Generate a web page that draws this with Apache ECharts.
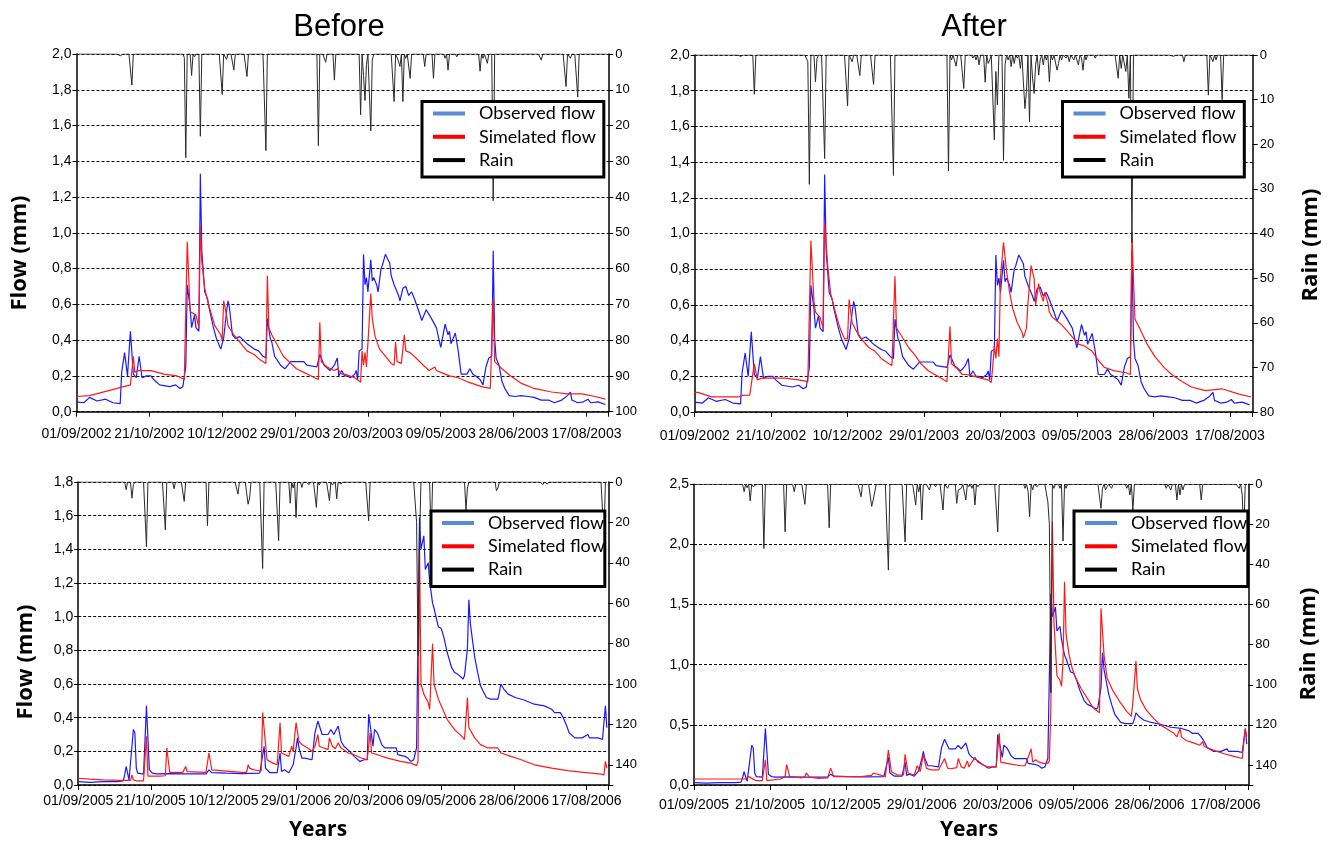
<!DOCTYPE html>
<html>
<head>
<meta charset="utf-8">
<script src="https://cdn.jsdelivr.net/npm/echarts@6/dist/echarts.min.js"></script>
<style>
html,body{margin:0;padding:0;background:#fff;}
#chart{width:1333px;height:841px;}
</style>
</head>
<body>
<div id="chart"></div>
<script>
// ---------- DATA (day offset from the start date, value) ----------
const START_2002 = [2002, 8, 1];   // 01/09/2002
const START_2005 = [2005, 8, 1];   // 01/09/2005
const PANEL_TITLES = ['Before', 'After'];
const SERIES_NAMES = ['Observed flow', 'Simelated flow', 'Rain'];

// Observed flow 2002-2003 (mm) – same in Before / After
const OBS_2002 = [[0,0.055],[5,0.05],[9,0.08],[14,0.06],[20,0.07],[25,0.05],[30,0.045],[31,0.22],[33,0.33],[35,0.2],[37,0.45],[39,0.21],[41,0.19],[43,0.31],[45,0.19],[48,0.2],[51,0.2],[53,0.18],[57,0.15],[64,0.14],[68,0.15],[71,0.13],[73,0.14],[75,0.25],[76,0.71],[78,0.58],[79,0.47],[81,0.54],[82,0.47],[84,0.45],[85,1.33],[86,0.9],[88,0.67],[90,0.63],[91,0.58],[94,0.47],[96,0.41],[99,0.35],[101,0.41],[103,0.56],[104,0.62],[105,0.58],[107,0.43],[109,0.41],[112,0.42],[117,0.38],[122,0.35],[125,0.34],[128,0.31],[130,0.3],[131,0.52],[133,0.41],[134,0.39],[136,0.31],[140,0.26],[143,0.24],[147,0.28],[156,0.28],[158,0.26],[165,0.25],[167,0.32],[170,0.26],[174,0.23],[177,0.26],[179,0.3],[180,0.2],[182,0.23],[184,0.2],[186,0.2],[188,0.19],[191,0.21],[192,0.23],[193,0.18],[194,0.34],[196,0.35],[197,0.88],[198,0.71],[199,0.75],[200,0.67],[202,0.85],[203,0.73],[204,0.75],[206,0.71],[207,0.67],[209,0.8],[210,0.82],[212,0.88],[213,0.88],[215,0.83],[216,0.76],[218,0.71],[221,0.65],[222,0.62],[224,0.69],[226,0.7],[228,0.65],[230,0.67],[232,0.63],[235,0.56],[237,0.51],[240,0.57],[243,0.53],[247,0.47],[250,0.36],[251,0.35],[253,0.49],[255,0.43],[256,0.45],[257,0.38],[260,0.44],[262,0.34],[264,0.21],[268,0.21],[270,0.24],[272,0.21],[274,0.2],[277,0.18],[279,0.15],[281,0.25],[283,0.3],[285,0.31],[286,0.9],[287,0.41],[288,0.3],[290,0.26],[292,0.17],[294,0.13],[297,0.09],[301,0.085],[305,0.09],[310,0.085],[314,0.08],[319,0.065],[324,0.065],[328,0.05],[333,0.065],[337,0.09],[339,0.11],[340,0.065],[344,0.05],[348,0.055],[351,0.07],[353,0.05],[358,0.055],[363,0.04]];

// Simulated flow 2002-2003, Before calibration
const SIM_BEFORE_2002 = [[0,0.085],[9,0.09],[37,0.15],[38,0.16],[39,0.31],[40,0.22],[42,0.23],[51,0.23],[60,0.21],[69,0.2],[74,0.18],[75,0.18],[76,0.95],[78,0.56],[79,0.55],[82,0.54],[84,0.47],[85,1.04],[86,0.84],[88,0.69],[90,0.62],[92,0.56],[95,0.48],[99,0.43],[100,0.4],[101,0.62],[103,0.54],[104,0.48],[108,0.43],[112,0.39],[117,0.34],[122,0.32],[126,0.29],[130,0.27],[131,0.76],[132,0.47],[134,0.43],[138,0.37],[142,0.31],[147,0.27],[151,0.24],[156,0.22],[161,0.2],[166,0.18],[167,0.5],[168,0.28],[172,0.25],[177,0.23],[179,0.24],[182,0.21],[184,0.21],[191,0.19],[195,0.165],[196,0.34],[197,0.26],[198,0.33],[199,0.25],[200,0.38],[202,0.66],[203,0.52],[205,0.42],[208,0.35],[211,0.32],[216,0.27],[218,0.26],[219,0.39],[220,0.28],[223,0.27],[225,0.43],[226,0.34],[229,0.33],[233,0.3],[238,0.26],[242,0.23],[246,0.25],[247,0.23],[253,0.21],[256,0.2],[262,0.19],[269,0.165],[278,0.14],[284,0.13],[285,0.14],[286,0.63],[287,0.28],[292,0.24],[298,0.2],[305,0.16],[314,0.13],[326,0.11],[337,0.1],[344,0.1],[345,0.11],[347,0.1],[356,0.085],[363,0.07]];

// Simulated flow 2002-2003, After calibration
const SIM_AFTER_2002 = [[0,0.11],[2,0.11],[11,0.085],[29,0.085],[31,0.093],[36,0.095],[37,0.1],[39,0.27],[41,0.18],[44,0.19],[50,0.19],[59,0.19],[68,0.18],[74,0.17],[76,0.96],[78,0.62],[79,0.56],[82,0.53],[84,0.47],[85,1.06],[87,0.82],[89,0.66],[92,0.56],[95,0.47],[98,0.41],[100,0.41],[101,0.63],[103,0.5],[106,0.45],[109,0.41],[114,0.36],[118,0.34],[122,0.3],[127,0.27],[129,0.26],[131,0.76],[132,0.47],[135,0.43],[140,0.36],[144,0.32],[148,0.27],[153,0.23],[159,0.2],[165,0.17],[167,0.48],[168,0.27],[172,0.24],[175,0.21],[178,0.21],[183,0.2],[187,0.19],[192,0.18],[194,0.165],[195,0.26],[196,0.37],[197,0.3],[198,0.41],[199,0.31],[200,0.75],[202,0.95],[204,0.79],[206,0.67],[208,0.58],[211,0.5],[214,0.45],[215,0.415],[217,0.47],[218,0.61],[220,0.82],[222,0.75],[223,0.6],[225,0.72],[226,0.67],[228,0.62],[229,0.67],[231,0.61],[232,0.56],[234,0.53],[237,0.51],[240,0.49],[244,0.45],[248,0.41],[251,0.38],[255,0.37],[260,0.34],[264,0.29],[268,0.25],[275,0.23],[282,0.22],[285,0.21],[286,1.01],[287,0.75],[288,0.52],[291,0.47],[296,0.38],[301,0.31],[307,0.25],[312,0.21],[319,0.17],[325,0.14],[334,0.12],[345,0.13],[346,0.12],[356,0.1],[364,0.084]];

// Rain 2002-2003 (mm), [day, mm]; other days 0
const RAIN_BEFORE_2002 = [[30,0.5],[38,8.7],[50,0.3],[74,1],[75,29],[79,6],[81,0.8],[85,23],[100,11.3],[103,1.5],[108,4.5],[117,6.3],[130,27],[166,25.6],[171,2.3],[177,7.3],[195,17],[197,6],[198,13],[199,3],[202,21.5],[203,1.7],[218,13.3],[221,2],[222,3.5],[224,13.3],[226,1.2],[229,6.8],[239,3.5],[245,6.8],[253,1.2],[255,4.5],[261,0.8],[277,4.8],[279,1.2],[282,2.6],[286,41],[312,0.4],[319,1.7],[336,9.1],[339,1.2],[344,12]];
const RAIN_AFTER_2002 = [[30,0.3],[39,8.8],[74,1.5],[75,29],[79,6],[80,0.8],[85,23.2],[100,11.4],[103,1.5],[108,4.6],[117,6.6],[130,27],[166,26],[168,1.1],[171,2.5],[176,7.5],[182,0.7],[184,1.1],[186,2.2],[190,6.1],[192,1.9],[193,1.1],[196,19],[197,3.7],[198,11.2],[202,23.6],[203,2.2],[205,1.1],[207,2.6],[209,1.9],[211,0.7],[213,3],[215,6],[216,12],[217,8.2],[219,15],[221,5.2],[222,8.6],[223,2.2],[225,4.5],[226,1.1],[228,2.2],[230,1.1],[232,6],[234,1.1],[237,3.4],[238,1.9],[240,1.1],[243,0.7],[245,1.5],[248,1.1],[251,2.2],[253,0.7],[254,3.4],[256,1.1],[262,0.7],[277,5.2],[279,3],[282,3.7],[284,9.7],[286,42],[313,0.3],[320,1.5],[336,9],[339,1.5],[341,1.1],[345,10]];

// Observed flow 2005-2006 (mm) – same in Before / After
const OBS_2005 = [[0,0.02],[8,0.016],[17,0.02],[27,0.02],[31,0.024],[32,0.06],[33,0.11],[35,0.03],[36,0.03],[38,0.33],[39,0.31],[40,0.1],[41,0.07],[45,0.065],[46,0.07],[47,0.47],[49,0.09],[51,0.07],[54,0.066],[63,0.067],[74,0.066],[88,0.066],[90,0.09],[92,0.073],[102,0.07],[113,0.068],[125,0.07],[126,0.073],[128,0.23],[129,0.1],[132,0.073],[137,0.073],[139,0.19],[140,0.08],[142,0.09],[145,0.073],[148,0.12],[150,0.22],[151,0.28],[152,0.22],[154,0.16],[156,0.16],[157,0.15],[161,0.15],[163,0.31],[165,0.38],[166,0.37],[168,0.3],[172,0.3],[174,0.33],[176,0.3],[179,0.35],[181,0.26],[183,0.23],[187,0.2],[190,0.17],[194,0.14],[197,0.15],[199,0.15],[200,0.42],[201,0.43],[203,0.23],[204,0.33],[206,0.31],[209,0.24],[211,0.22],[219,0.22],[220,0.18],[225,0.17],[227,0.16],[229,0.14],[231,0.15],[233,0.22],[234,0.22],[235,1.59],[236,1.4],[238,1.48],[239,1.28],[240,1.27],[241,1.32],[242,1.21],[244,1.08],[245,1.05],[248,0.94],[250,0.93],[252,0.87],[254,0.79],[257,0.7],[259,0.67],[261,0.66],[265,0.63],[266,0.65],[268,0.81],[269,1.1],[270,0.96],[273,0.76],[275,0.67],[277,0.59],[281,0.52],[284,0.51],[289,0.51],[290,0.55],[291,0.6],[293,0.57],[296,0.54],[301,0.52],[307,0.505],[314,0.48],[321,0.47],[326,0.45],[328,0.43],[332,0.43],[334,0.4],[336,0.36],[338,0.31],[342,0.28],[347,0.28],[351,0.3],[352,0.28],[358,0.28],[361,0.27],[363,0.47],[364,0.34]];

const SIM_BEFORE_2005 = [[0,0.04],[8,0.035],[17,0.03],[29,0.028],[33,0.028],[36,0.027],[37,0.06],[38,0.03],[40,0.025],[45,0.025],[47,0.29],[48,0.053],[56,0.053],[60,0.055],[61,0.22],[63,0.075],[72,0.075],[74,0.11],[75,0.08],[88,0.075],[90,0.19],[92,0.09],[102,0.083],[113,0.075],[116,0.075],[117,0.12],[118,0.1],[119,0.11],[121,0.09],[126,0.083],[127,0.43],[130,0.15],[134,0.13],[137,0.12],[139,0.37],[140,0.19],[145,0.17],[147,0.23],[148,0.2],[150,0.37],[152,0.26],[154,0.24],[158,0.22],[161,0.2],[163,0.23],[165,0.3],[166,0.23],[169,0.22],[172,0.21],[173,0.28],[175,0.23],[177,0.215],[179,0.25],[181,0.22],[186,0.19],[190,0.18],[195,0.16],[199,0.15],[200,0.15],[201,0.31],[202,0.19],[206,0.18],[213,0.16],[222,0.14],[229,0.13],[233,0.115],[234,0.14],[235,1.42],[236,0.6],[238,0.54],[241,0.49],[242,0.45],[244,0.84],[245,0.6],[248,0.51],[251,0.45],[254,0.39],[259,0.33],[264,0.29],[266,0.27],[268,0.52],[269,0.34],[273,0.28],[277,0.24],[282,0.22],[289,0.22],[291,0.19],[298,0.17],[305,0.15],[314,0.12],[326,0.1],[337,0.085],[348,0.075],[360,0.065],[362,0.06],[363,0.14],[364,0.1]];

const SIM_AFTER_2005 = [[0,0.05],[16,0.05],[31,0.05],[34,0.05],[36,0.07],[38,0.055],[41,0.036],[45,0.036],[47,0.21],[48,0.036],[57,0.05],[60,0.07],[61,0.17],[63,0.07],[71,0.06],[73,0.07],[74,0.1],[76,0.065],[82,0.055],[88,0.06],[90,0.14],[92,0.07],[97,0.07],[110,0.07],[117,0.08],[118,0.1],[119,0.085],[126,0.07],[128,0.29],[130,0.11],[134,0.083],[138,0.083],[139,0.255],[141,0.1],[145,0.083],[147,0.16],[149,0.11],[151,0.255],[153,0.14],[156,0.125],[161,0.125],[165,0.22],[167,0.14],[169,0.135],[173,0.145],[174,0.22],[176,0.15],[178,0.14],[180,0.2],[181,0.15],[185,0.23],[187,0.19],[193,0.15],[199,0.15],[201,0.43],[202,0.19],[206,0.18],[215,0.16],[218,0.16],[222,0.3],[223,0.19],[225,0.21],[227,0.19],[230,0.18],[233,0.18],[234,0.2],[235,0.64],[236,2.19],[237,1.36],[239,0.91],[241,0.87],[242,0.82],[243,1.03],[244,1.69],[245,1.25],[247,1.08],[249,0.97],[251,0.9],[255,0.8],[259,0.72],[263,0.64],[267,0.6],[268,1.47],[270,1.08],[272,0.89],[276,0.78],[281,0.68],[285,0.61],[288,0.57],[289,0.69],[291,1.03],[292,0.8],[294,0.71],[298,0.62],[303,0.55],[307,0.5],[311,0.47],[316,0.43],[318,0.4],[320,0.47],[321,0.4],[324,0.37],[329,0.35],[333,0.33],[335,0.36],[336,0.32],[342,0.29],[349,0.26],[355,0.24],[361,0.22],[363,0.47],[364,0.4]];

const RAIN_BEFORE_2005 = [[33,3.8],[37,8],[38,1.3],[47,32],[60,23.7],[66,3.3],[73,9.6],[89,21.6],[110,6],[117,11],[118,8],[127,42.8],[138,29],[146,10.5],[148,3],[150,17.6],[154,2.7],[159,1.3],[164,12.6],[166,1.5],[173,9.3],[175,1.5],[176,1.3],[178,8.3],[181,1],[200,19.2],[233,20],[234,86],[235,30],[243,30],[267,14],[268,3],[288,4.3],[289,3],[320,1.3],[323,1],[362,28]];
const RAIN_AFTER_2005 = [[33,3.7],[35,1.7],[37,8.3],[39,1.2],[40,1.2],[46,32],[60,23.7],[66,3.7],[73,10],[89,21.7],[110,6.2],[117,11],[118,7.8],[119,8.7],[128,42.8],[139,28.7],[146,10.3],[148,3.7],[150,17.8],[155,2.8],[159,1.2],[164,12.8],[167,2],[173,9.5],[174,2.8],[175,3.7],[176,2],[179,7.8],[181,1.2],[183,2],[185,10.3],[187,1.2],[200,23.7],[218,2],[220,3.7],[221,16.2],[223,2.8],[226,1.2],[233,8.7],[234,20],[235,104],[237,2],[241,2],[243,28.3],[245,2],[268,12],[269,2],[271,2.8],[272,1.2],[275,2],[285,2],[287,5.3],[289,13],[311,2],[314,2.8],[318,7.8],[320,5.3],[322,2.8],[334,7.8],[359,2],[361,5.3],[362,25]];

// Axis ranges
const FLOW_MAX = [2.0, 2.0, 1.8, 2.5];
const FLOW_STEP = [0.2, 0.2, 0.2, 0.5];
const RAIN_MAX = [100, 80, 150, 150];
const RAIN_STEP = [10, 10, 20, 20];

// ---------- BUILD ----------
function dailyRain(events) {
  const m = new Map(events.map(e => [e[0], e[1]]));
  const out = [];
  for (let d = 0; d <= 364; d++) out.push([d, m.has(d) ? m.get(d) : 0]);
  return out;
}
function pad2(n) { return (n < 10 ? '0' : '') + n; }
function dateFormatter(start) {
  return function (v) {
    if (Math.abs(v % 50) > 1e-6) return '';
    const d = new Date(Date.UTC(start[0], start[1], start[2] + v));
    return pad2(d.getUTCDate()) + '/' + pad2(d.getUTCMonth() + 1) + '/' + d.getUTCFullYear();
  };
}

const panels = [
  {start: START_2002, obs: OBS_2002, sim: SIM_BEFORE_2002, rain: RAIN_BEFORE_2002,
   grid: {left: 76.5, right: 724.7, top: 54, bottom: 429.3}, xMargin: 15,
   legend: {left: 422, top: 101.5, padR: 8}},
  {start: START_2002, obs: OBS_2002, sim: SIM_AFTER_2002, rain: RAIN_AFTER_2002,
   grid: {left: 694.7, right: 80.3, top: 55, bottom: 429}, xMargin: 17,
   legend: {left: 1062.5, top: 101.5, padR: 8}},
  {start: START_2005, obs: OBS_2005, sim: SIM_BEFORE_2005, rain: RAIN_BEFORE_2005,
   grid: {left: 78.2, right: 724.7, top: 482, bottom: 56}, xMargin: 9,
   legend: {left: 431, top: 511, padR: 0}},
  {start: START_2005, obs: OBS_2005, sim: SIM_AFTER_2005, rain: RAIN_AFTER_2005,
   grid: {left: 694, right: 84.7, top: 484.3, bottom: 56}, xMargin: 13,
   legend: {left: 1074, top: 511, padR: 0}}
];

const grids = [], xAxes = [], yAxes = [], series = [], legends = [];
panels.forEach((p, i) => {
  grids.push(Object.assign({containLabel: false}, p.grid));
  xAxes.push({
    type: 'value', gridIndex: i, min: 0, max: 365, interval: 50,
    axisLine: {lineStyle: {color: '#000', width: 1.5}},
    axisTick: {length: 5, lineStyle: {color: '#000', width: 1}},
    axisLabel: {formatter: dateFormatter(p.start), color: '#000',
      fontFamily: '"Liberation Sans Narrow", "Liberation Sans", sans-serif', fontSize: 14, margin: p.xMargin},
    splitLine: {show: false}
  });
  yAxes.push({
    type: 'value', gridIndex: i, position: 'left', min: 0, max: FLOW_MAX[i], interval: FLOW_STEP[i],
    axisLine: {show: true, lineStyle: {color: '#000', width: 1.5}},
    axisTick: {show: true, length: 4, lineStyle: {color: '#000'}},
    axisLabel: {formatter: v => v.toFixed(1).replace('.', ','), color: '#000',
      fontFamily: '"Liberation Sans", sans-serif', fontSize: 14, margin: 5},
    splitLine: {show: true, lineStyle: {color: '#000', width: 1, type: [3, 2]}}
  });
  yAxes.push({
    type: 'value', gridIndex: i, position: 'right', inverse: true, min: 0, max: RAIN_MAX[i], interval: RAIN_STEP[i],
    axisLine: {show: true, lineStyle: {color: '#000', width: 1.5}},
    axisTick: {show: true, length: 5, lineStyle: {color: '#000'}},
    axisLabel: {formatter: v => (v % RAIN_STEP[i] === 0 ? String(v) : ''), color: '#000',
      fontFamily: '"Liberation Sans", sans-serif', fontSize: 13, margin: 7},
    splitLine: {show: false}
  });
  series.push({
    name: SERIES_NAMES[0], type: 'line', xAxisIndex: i, yAxisIndex: 2 * i, data: p.obs,
    color: '#1a1aff', showSymbol: false, symbol: 'none', lineStyle: {width: 1.2, color: '#1a1aff'}, z: 3
  });
  series.push({
    name: SERIES_NAMES[1], type: 'line', xAxisIndex: i, yAxisIndex: 2 * i, data: p.sim,
    color: '#ff1a1a', showSymbol: false, symbol: 'none', lineStyle: {width: 1.2, color: '#ff1a1a'}, z: 3
  });
  series.push({
    name: SERIES_NAMES[2], type: 'line', xAxisIndex: i, yAxisIndex: 2 * i + 1, data: dailyRain(p.rain),
    color: '#000', showSymbol: false, symbol: 'none', lineStyle: {width: 1, color: '#2a2a2a'}, z: 3
  });
  legends.push({
    left: p.legend.left, top: p.legend.top, orient: 'vertical', icon: 'rect',
    itemWidth: 32, itemHeight: 4, itemGap: 3.3, padding: [2, p.legend.padR, 7, 11],
    backgroundColor: '#fff', borderColor: '#000', borderWidth: 3, selectedMode: false,
    itemStyle: {borderWidth: 0},
    textStyle: {fontFamily: 'Lato, sans-serif', fontSize: 18, color: '#000', lineHeight: 20, padding: [0, 0, 0, 9]},
    data: [{name: SERIES_NAMES[0], itemStyle: {color: '#5b8bd6', borderWidth: 0}},
           {name: SERIES_NAMES[1], itemStyle: {color: '#ff0000', borderWidth: 0}},
           {name: SERIES_NAMES[2], itemStyle: {color: '#000', borderWidth: 0}}]
  });
});

const boldFont = 'bold 22px "Open Sans", sans-serif';
const graphic = [
  {type: 'text', x: 339, y: 27, style: {text: PANEL_TITLES[0], font: '31px "Liberation Sans", sans-serif', fill: '#000', textAlign: 'center', textVerticalAlign: 'middle'}},
  {type: 'text', x: 974, y: 27, style: {text: PANEL_TITLES[1], font: '31px "Liberation Sans", sans-serif', fill: '#000', textAlign: 'center', textVerticalAlign: 'middle'}},
  {type: 'text', x: 20, y: 253, rotation: Math.PI / 2, style: {text: 'Flow (mm)', font: boldFont, fill: '#000', textAlign: 'center', textVerticalAlign: 'middle'}},
  {type: 'text', x: 26, y: 662, rotation: Math.PI / 2, style: {text: 'Flow (mm)', font: boldFont, fill: '#000', textAlign: 'center', textVerticalAlign: 'middle'}},
  {type: 'text', x: 1311, y: 245, rotation: Math.PI / 2, style: {text: 'Rain (mm)', font: boldFont, fill: '#000', textAlign: 'center', textVerticalAlign: 'middle'}},
  {type: 'text', x: 1309, y: 644, rotation: Math.PI / 2, style: {text: 'Rain (mm)', font: boldFont, fill: '#000', textAlign: 'center', textVerticalAlign: 'middle'}},
  {type: 'text', x: 318, y: 830, style: {text: 'Years', font: 'bold 21px "Open Sans", sans-serif', fill: '#000', textAlign: 'center', textVerticalAlign: 'middle'}},
  {type: 'text', x: 969, y: 830, style: {text: 'Years', font: 'bold 21px "Open Sans", sans-serif', fill: '#000', textAlign: 'center', textVerticalAlign: 'middle'}}
];

const chart = echarts.init(document.getElementById('chart'), null, {renderer: 'canvas'});
chart.setOption({
  animation: false,
  backgroundColor: '#fff',
  grid: grids, xAxis: xAxes, yAxis: yAxes, series: series, legend: legends, graphic: graphic
});
</script>
</body>
</html>
